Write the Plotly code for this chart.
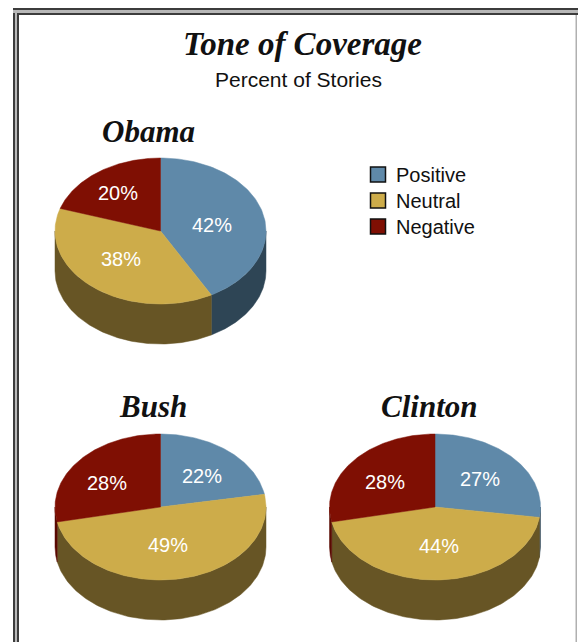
import numpy as np
import plotly.graph_objects as go

# ---- data ----
categories = ["Positive", "Neutral", "Negative"]
obama = [42, 38, 20]
bush = [22, 49, 28]
clinton = [27, 44, 28]
pie_names = ["Obama", "Bush", "Clinton"]

# ---- style / layout ----
W, H = 578, 642
TOP = ["#5F89A9", "#CDAC4A", "#7F0F03"]
SIDE = ["#2E4555", "#675525", "#5A0A02"]
A, B, DEPTH = 105.5, 73, 40
LABEL_R = 0.56
PIES = [
    (obama, 160.5, 231, 148, 131, [(-6, 4), (-2, -4), (-8, -5)]),
    (bush, 160.5, 507, 153, 406, [(4, 0), (-4, -2), (-8, 2)]),
    (clinton, 435, 507, 429, 406, [(0, -1), (2, -2), (-4, 1)]),
]
LEGEND_X, LEGEND_TEXT_X, LEGEND_Y, LEGEND_STEP = 378, 393.5, 174.5, 26
SERIF = "Liberation Serif"
SANS = "Liberation Sans"

fig = go.Figure()


def wedge_top(cx, cy, t0, t1):
    t = np.linspace(t0, t1, 120)
    xs = np.r_[cx, cx + A * np.sin(t), cx]
    ys = np.r_[cy, cy - B * np.cos(t), cy]
    return xs, ys


def wedge_side(cx, cy, t0, t1):
    t = np.linspace(t0, t1, 120)
    x = cx + A * np.sin(t)
    y = cy - B * np.cos(t)
    return np.r_[x, x[::-1], x[0]], np.r_[y, y[::-1] + DEPTH, y[0]]


annotations = []
for (vals, cx, cy, tx, ty, nudges), pname in zip(PIES, pie_names):
    shares = np.array(vals, float) / sum(vals)
    edges = np.r_[0, np.cumsum(shares)] * 2 * np.pi
    # side walls: only the front half of the rim (pi/2 .. 3pi/2) shows
    for i, cat in enumerate(categories):
        t0, t1 = max(edges[i], np.pi / 2), min(edges[i + 1], 3 * np.pi / 2)
        if t1 > t0:
            xs, ys = wedge_side(cx, cy, t0, t1)
            fig.add_trace(go.Scatter(x=xs, y=ys, mode="lines", fill="toself",
                                     fillcolor=SIDE[i], line=dict(width=0.5, color=SIDE[i]),
                                     showlegend=False, hoverinfo="skip"))
    # top faces
    for i, cat in enumerate(categories):
        xs, ys = wedge_top(cx, cy, edges[i], edges[i + 1])
        fig.add_trace(go.Scatter(x=xs, y=ys, mode="lines", fill="toself",
                                 fillcolor=TOP[i], line=dict(width=0.5, color=TOP[i]),
                                 name=f"{pname} {cat}", showlegend=False,
                                 hovertemplate=f"{pname} {cat}: {vals[i]}%<extra></extra>"))
        mid = (edges[i] + edges[i + 1]) / 2
        annotations.append(dict(x=cx + LABEL_R * A * np.sin(mid) + nudges[i][0],
                                y=cy - LABEL_R * B * np.cos(mid) + nudges[i][1],
                                xref="x", yref="y", text=f"{vals[i]}%", showarrow=False,
                                font=dict(family=SANS, size=20, color="#FFFFFF")))
    annotations.append(dict(x=tx, y=ty, xref="x", yref="y", text=pname, showarrow=False,
                            font=dict(family=SERIF, size=31, color="#111111", style="italic", weight="bold")))

# legend: swatch + label per category
for i, cat in enumerate(categories):
    y = LEGEND_Y + i * LEGEND_STEP
    fig.add_trace(go.Scatter(x=[LEGEND_X], y=[y], mode="markers", name=cat, showlegend=False,
                             marker=dict(symbol="square", size=15, color=TOP[i],
                                         line=dict(color="#111111", width=1.5)),
                             hoverinfo="name"))
    annotations.append(dict(x=LEGEND_TEXT_X, y=y, xref="x", yref="y", text=cat, xanchor="left",
                            showarrow=False, font=dict(family=SANS, size=20, color="#111111")))

annotations.append(dict(x=302.5, y=44, xref="x", yref="y", text="Tone of Coverage", showarrow=False,
                        font=dict(family=SERIF, size=33, color="#111111", style="italic", weight="bold")))
annotations.append(dict(x=298.5, y=79.5, xref="x", yref="y", text="Percent of Stories", showarrow=False,
                        font=dict(family=SANS, size=21, color="#111111")))

# double page frame
shapes = []
for x0, x1, c in [(13, 15, "#3C3C3C"), (15, 17, "#B8B8B8"), (17, 19, "#3C3C3C")]:
    shapes.append(dict(type="rect", x0=x0, x1=x1, y0=8, y1=H, xref="x", yref="y",
                       fillcolor=c, line_width=0, layer="below"))
for y0, y1, c in [(8, 10, "#3C3C3C"), (10, 13, "#B8B8B8"), (13, 15, "#3C3C3C")]:
    shapes.append(dict(type="rect", x0=13 if y0 < 13 else 17, x1=W, y0=y0, y1=y1, xref="x", yref="y",
                       fillcolor=c, line_width=0, layer="below"))
shapes.append(dict(type="rect", x0=575.5, x1=577, y0=15, y1=H, xref="x", yref="y",
                   fillcolor="#B0B0B0", line_width=0, layer="below"))

axis = dict(visible=False, showgrid=False, zeroline=False, fixedrange=True)
fig.update_layout(
    width=W, height=H, autosize=False,
    margin=dict(l=0, r=0, t=0, b=0),
    paper_bgcolor="#FFFFFF", plot_bgcolor="#FFFFFF",
    xaxis=dict(range=[0, W], **axis),
    yaxis=dict(range=[H, 0], **axis),
    annotations=annotations,
    shapes=shapes,
    showlegend=False,
)
fig.write_html("out.html", config={"displayModeBar": False},
               post_script="document.body.style.margin='0';document.body.style.overflow='hidden';")
